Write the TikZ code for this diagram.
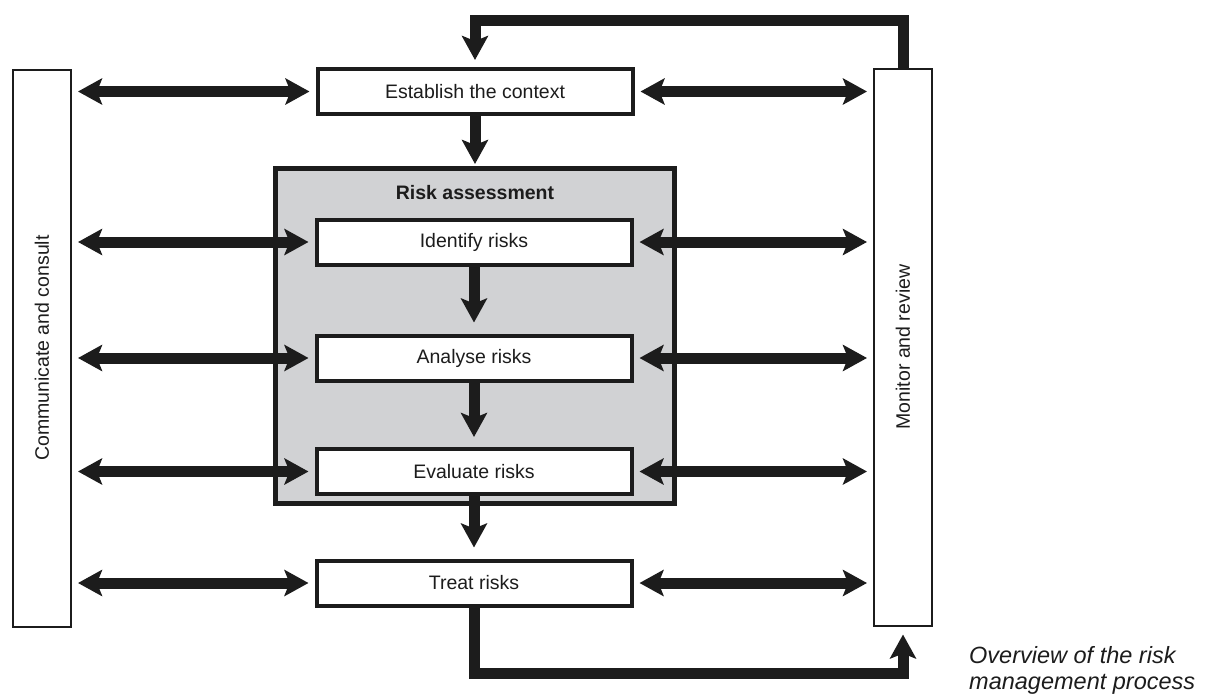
\documentclass[tikz,border=0pt]{standalone}
\usepackage{fontspec}
\setmainfont{Liberation Sans}
\usepackage{tikz}
\usetikzlibrary{arrows.meta,positioning}
\definecolor{rmInk}{HTML}{1C1C1C}
\definecolor{rmGray}{HTML}{D1D2D4}
\tikzset{
  % Process step box
  stepbox/.style={rectangle,draw=rmInk,line width=4pt,fill=white,
    minimum width=315pt,minimum height=45pt,
    font=\fontsize{19.5}{23}\selectfont,text=rmInk},
  % Tall side box (rotated text)
  sidebox/.style={rectangle,draw=rmInk,line width=2pt,fill=white,
    rotate=90,minimum width=557pt,minimum height=58pt,
    font=\fontsize{19.5}{23}\selectfont,text=rmInk},
  % Grey assessment frame
  framebox/.style={rectangle,draw=rmInk,line width=5pt,fill=rmGray,
    minimum width=399pt,minimum height=335pt},
  % Arrows
  flow/.style={-{Stealth[length=24pt,width=26pt,inset=5pt]},
    line width=11pt,draw=rmInk},
  dbl/.style={{Stealth[length=24pt,width=26pt,inset=5pt]}-{Stealth[length=24pt,width=26pt,inset=5pt]},
    line width=11pt,draw=rmInk,shorten <=6pt,shorten >=6pt},
}
\begin{document}
\begin{tikzpicture}[x=1pt,y=-1pt]
  \useasboundingbox (0,0) rectangle (1205,694);

  \node[framebox] (assess) at (475,336) {};
  \node[font=\fontsize{19.5}{23}\selectfont\bfseries,text=rmInk] (assesslbl)
    at (475,193) {Risk assessment};

  \node[stepbox] (ctx) at (475,91.5) {Establish the context};
  \node[stepbox] (ident) at (474,242) {Identify risks};
  \node[stepbox] (analyse) at (474,358) {Analyse risks};
  \node[stepbox] (evaluate) at (474,471.5) {Evaluate risks};
  \node[stepbox] (treat) at (474,583) {Treat risks};

  \node[sidebox] (comm) at (42,348) {Communicate and consult};
  \node[sidebox] (monitor) at (903,347) {Monitor and review};

  \node[anchor=north west,align=left,inner sep=0pt,
    font=\fontsize{23.5}{26}\selectfont\itshape,text=rmInk] (caption)
    at (969,646) {Overview of the risk\\management process};

  % main chain
  \draw[flow,shorten >=2pt] (ctx.south) -- (assess.north);
  \draw[flow,shorten >=11pt] (ident.south) -- (analyse.north);
  \draw[flow,shorten >=10pt] (analyse.south) -- (evaluate.north);
  \draw[flow,shorten >=11pt] (evaluate.south) -- (treat.north);

  % communicate and consult
  \foreach \n in {ctx,ident,analyse,evaluate,treat}
    \draw[dbl] (comm.south |- \n) -- (\n.west);
  % monitor and review
  \foreach \n in {ctx,ident,analyse,evaluate,treat}
    \draw[dbl] (\n.east) -- (\n -| monitor.north);

  % feedback loops
  \draw[flow,shorten >=7pt] (monitor.east) |- ([yshift=47pt]ctx.north) -- (ctx.north);
  \draw[flow,shorten >=8pt] (treat.south) -- ([yshift=-66pt]treat.south) -| (monitor.west);
\end{tikzpicture}
\end{document}
